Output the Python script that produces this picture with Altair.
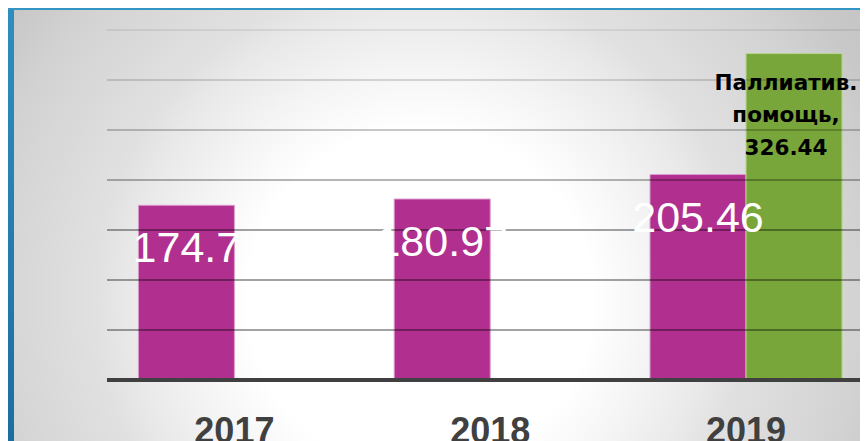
import altair as alt
import pandas as pd

# ---- data ----
years = ["2017", "2018", "2019"]
series_names = ["Всего", "Паллиатив. помощь"]
main_values = [174.7, 180.97, 205.46]
pall_years = ["2019"]
pall_values = [326.44]
grid_values = [50, 100, 150, 200, 250, 300, 350]

rows = [{"year": y, "series": series_names[0], "value": v} for y, v in zip(years, main_values)]
rows += [{"year": y, "series": series_names[1], "value": v} for y, v in zip(pall_years, pall_values)]
df = pd.DataFrame(rows)
grid_df = pd.DataFrame({"g": grid_values})

TOTAL_W = 852
PAD_L = 104
W = TOTAL_W - PAD_L
H = 350

x_scale = alt.Scale(domain=years, paddingInner=0.2494, paddingOuter=0.0867, align=0.595, round=False)
y_scale = alt.Scale(domain=[0, 350])
off_scale = alt.Scale(domain=series_names, paddingInner=0, paddingOuter=0)
color_scale = alt.Scale(domain=series_names, range=["#B02F8F", "#79A63A"])
stroke_scale = alt.Scale(domain=series_names, range=["#dc9ccd", "#b8d68e"])

x_axis = alt.Axis(
    title=None, labelAngle=0, labelFont="Liberation Sans", labelFontSize=36,
    labelFontWeight="bold", labelColor="#404040", labelPadding=34, ticks=False,
    domain=False, grid=False, zindex=1,
)
x_enc = alt.X("year:N", scale=x_scale, axis=x_axis)
xo_enc = alt.XOffset("series:N", scale=off_scale)
y_enc = alt.Y("value:Q", scale=y_scale, axis=None)

one = alt.Data(values=[{"k": 1}])

# radial background, centred near image (420, 300)
CX, CY, R = 420 - 8 - PAD_L, 300 - 30, 520
bg_fill = alt.RadialGradient(
    gradient="radial",
    x1=0.5, y1=0.5, r1=0, x2=0.5, y2=0.5, r2=0.5,
    stops=[
        alt.GradientStop(offset=0, color="#ffffff"),
        alt.GradientStop(offset=0.33, color="#ffffff"),
        alt.GradientStop(offset=0.44, color="#f5f5f5"),
        alt.GradientStop(offset=0.57, color="#e8e8e8"),
        alt.GradientStop(offset=0.62, color="#e1e1e1"),
        alt.GradientStop(offset=0.85, color="#d2d2d2"),
        alt.GradientStop(offset=0.95, color="#c8c8c8"),
        alt.GradientStop(offset=1, color="#c6c6c6"),
    ],
)
bg = alt.Chart(one).mark_rect(fill=bg_fill).encode(
    x=alt.value(CX - R), x2=alt.value(CX + R), y=alt.value(CY - R), y2=alt.value(CY + R)
)

left_fill = alt.LinearGradient(
    gradient="linear", x1=0, y1=0, x2=0, y2=1,
    stops=[alt.GradientStop(offset=0, color="#2f8ebf"), alt.GradientStop(offset=1, color="#1c6e9f")],
)
frame_left = alt.Chart(one).mark_rect(fill=left_fill).encode(
    x=alt.value(-PAD_L), x2=alt.value(-PAD_L + 6), y=alt.value(-22), y2=alt.value(411)
)
frame_top = alt.Chart(one).mark_rect(fill="#3494c3").encode(
    x=alt.value(-PAD_L), x2=alt.value(W), y=alt.value(-22), y2=alt.value(-20)
)

bars = alt.Chart(df).mark_bar(strokeWidth=1).encode(
    x=x_enc, xOffset=xo_enc, y=y_enc,
    color=alt.Color("series:N", scale=color_scale, legend=None),
    stroke=alt.Stroke("series:N", scale=stroke_scale, legend=None),
)

grid = alt.Chart(grid_df).mark_rule(color="black", strokeWidth=2).encode(
    y=alt.Y("g:Q", scale=y_scale, axis=None),
    x=alt.value(-5), x2=alt.value(W),
    opacity=alt.Opacity("g:Q", scale=alt.Scale(domain=[150, 350], range=[0.36, 0.07], clamp=True), legend=None),
)

baseline = alt.Chart(one).mark_rule(color="#404040", strokeWidth=4).encode(
    y=alt.YDatum(0, scale=y_scale, axis=None),
    x=alt.value(-5), x2=alt.value(W),
)

main_labels = alt.Chart(df).transform_filter(
    alt.datum.series == series_names[0]
).mark_text(
    color="white", fontSize=43, font="Liberation Sans", baseline="middle", dy=44
).encode(
    x=x_enc, xOffset=xo_enc, y=y_enc,
    text=alt.Text("value:Q", format=".2~f"),
)

pall_label = alt.Chart(df).transform_filter(
    alt.datum.series == series_names[1]
).transform_calculate(
    label="datum.series + ', ' + format(datum.value, '.2f')"
).mark_text(
    color="black", fontSize=21.5, font="DejaVu Sans", fontWeight="bold",
    baseline="middle", lineBreak=" ", lineHeight=32.5, dy=30, dx=-8,
).encode(
    x=x_enc, xOffset=xo_enc, y=y_enc, text="label:N",
)

chart = alt.layer(bg, frame_left, frame_top, bars, grid, baseline, main_labels, pall_label).properties(
    width=W, height=H,
    padding={"left": PAD_L, "top": 22, "right": 0, "bottom": 61},
    autosize=alt.AutoSizeParams(type="none"),
    background="#2a88b8",
).configure_view(stroke=None)

chart.save("out.html", embed_options={"renderer": "svg", "actions": False})
